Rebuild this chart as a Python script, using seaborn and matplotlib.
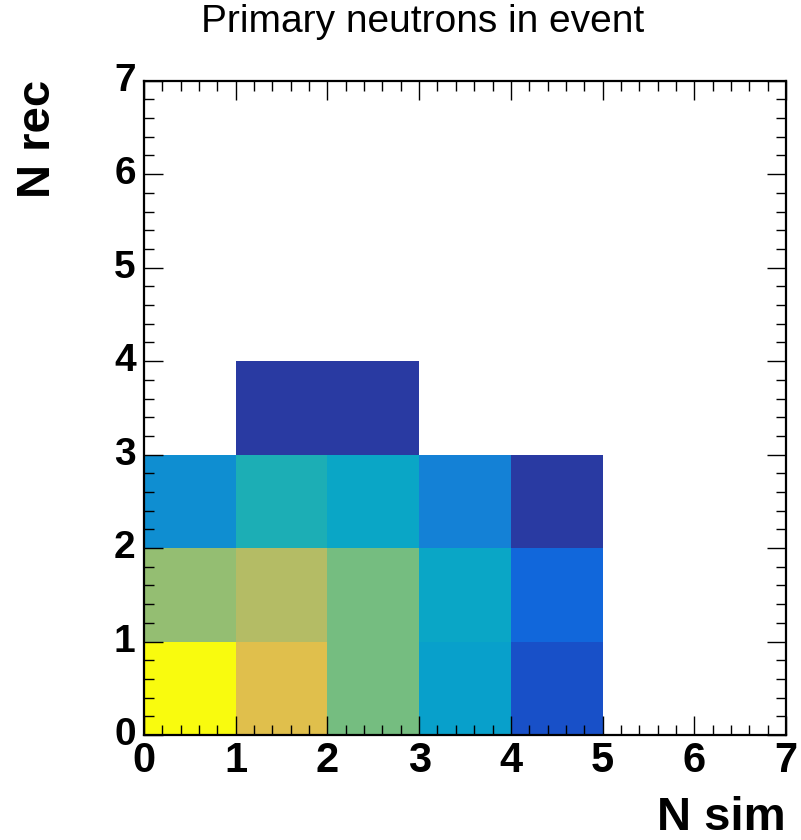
import numpy as np
import pandas as pd
import matplotlib
matplotlib.use("Agg")
import matplotlib.pyplot as plt
from matplotlib.colors import LinearSegmentedColormap
from matplotlib.ticker import AutoMinorLocator, MultipleLocator
import seaborn as sns

# Bin edges: simulated vs reconstructed primary neutron multiplicity
n_sim_bins = [0, 1, 2, 3, 4, 5, 6]
n_rec_bins = [0, 1, 2, 3, 4, 5, 6]

# Event counts per reconstructed multiplicity (rows), indexed by N sim
counts_rec0 = [1000, 790, 600, 360, 95, 0, 0]
counts_rec1 = [645, 700, 600, 390, 165, 0, 0]
counts_rec2 = [297, 445, 390, 250, 40, 0, 0]
counts_rec3 = [0, 40, 40, 0, 0, 0, 0]
counts_rec4 = [0, 0, 0, 0, 0, 0, 0]
counts_rec5 = [0, 0, 0, 0, 0, 0, 0]
counts_rec6 = [0, 0, 0, 0, 0, 0, 0]

tick_values = [0, 1, 2, 3, 4, 5, 6, 7]

table = pd.DataFrame(
    [counts_rec0, counts_rec1, counts_rec2, counts_rec3,
     counts_rec4, counts_rec5, counts_rec6],
    index=n_rec_bins, columns=n_sim_bins, dtype=float)

# ROOT "kBird" palette
stops = [0.0000, 0.1250, 0.2500, 0.3750, 0.5000, 0.6250, 0.7500, 0.8750, 1.0000]
red = [0.2082, 0.0592, 0.0780, 0.0232, 0.1802, 0.5301, 0.8186, 0.9956, 0.9764]
green = [0.1664, 0.3599, 0.5041, 0.6419, 0.7178, 0.7492, 0.7328, 0.7862, 0.9832]
blue = [0.5293, 0.8684, 0.8385, 0.7914, 0.6425, 0.4662, 0.3499, 0.1968, 0.0539]
bird = LinearSegmentedColormap.from_list(
    "bird", list(zip(stops, zip(red, green, blue))), N=256)

fig = plt.figure(figsize=(8.01, 8.40), dpi=100)
ax = fig.add_axes([144 / 801, 1 - 735 / 840, 642 / 801, 654.3 / 840])

sns.heatmap(table, ax=ax, cmap=bird, vmin=0, vmax=table.values.max(),
            mask=table == 0, cbar=False, linewidths=0)

ax.set_xlim(0, 7)
ax.set_ylim(0, 7)
ax.xaxis.set_major_locator(MultipleLocator(1))
ax.yaxis.set_major_locator(MultipleLocator(1))
ax.xaxis.set_minor_locator(AutoMinorLocator(5))
ax.yaxis.set_minor_locator(AutoMinorLocator(5))
ax.set_xticks(tick_values)
ax.set_yticks(tick_values)
ax.set_xticklabels([str(v) for v in tick_values], rotation=0)
ax.set_yticklabels([str(v) for v in tick_values], rotation=0)
ax.set_xlabel("")
ax.set_ylabel("")

for side in ["left", "right", "top", "bottom"]:
    ax.spines[side].set_visible(True)
    ax.spines[side].set_color("black")
    ax.spines[side].set_linewidth(1.6)

ax.tick_params(which="both", direction="in", top=True, right=True,
               color="black")
ax.tick_params(which="major", length=13.5, width=1.0)
ax.tick_params(which="minor", length=7, width=1.0)
ax.tick_params(axis="x", which="major", pad=4)
ax.tick_params(axis="y", which="major", pad=6)
for lab in ax.get_xticklabels():
    lab.set_fontfamily("Liberation Sans")
    lab.set_fontweight("bold")
    lab.set_fontsize(30)
for lab in ax.get_yticklabels():
    lab.set_fontfamily("Liberation Sans")
    lab.set_fontweight("bold")
    lab.set_fontsize(28)

fig.text(786 / 801, 10 / 840, "N sim", ha="right", va="baseline",
         fontfamily="Liberation Sans", fontweight="bold", fontsize=34)
fig.text(38 / 801, 1 - 80 / 840, "N rec", ha="center", va="top",
         rotation=90, fontfamily="Liberation Sans", fontweight="bold",
         fontsize=34)
fig.text(423 / 801, 1 - 32 / 840, "Primary neutrons in event",
         ha="center", va="baseline", fontfamily="Liberation Sans",
         fontsize=28)

fig.savefig("out.png", dpi=100, facecolor="white")
